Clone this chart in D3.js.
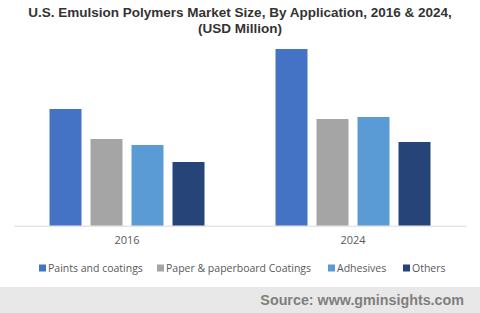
<!DOCTYPE html>
<html>
<head>
<meta charset="utf-8">
<script src="https://cdn.jsdelivr.net/npm/d3@7"></script>
<style>
  body { margin: 0; background: #fff; }
  svg { display: block; }
</style>
</head>
<body>
<svg id="chart"></svg>
<script>
const width = 480, height = 313;

// data (no y axis shown, relative values)
const years = ["2016", "2024"];
const categories = ["Paints and coatings", "Paper & paperboard Coatings", "Adhesives", "Others"];
const paints = [1167, 1767];
const paper = [867, 1067];
const adhesives = [807, 1087];
const others = [637, 837];
const colors = ["#4472C4", "#A5A5A5", "#5B9BD5", "#264478"];

const series = [paints, paper, adhesives, others];
const rows = years.map((y, i) => ({
    year: y,
    values: categories.map((c, j) => ({ cat: c, value: series[j][i] }))
}));

const svg = d3.select("#chart")
    .attr("width", width)
    .attr("height", height);

// title
const title = svg.append("text")
    .attr("text-anchor", "middle")
    .style("font-family", "Liberation Sans, Arial, sans-serif")
    .style("font-weight", "bold")
    .style("font-size", "13.5px")
    .style("fill", "#333");
title.append("tspan").attr("x", 240).attr("y", 17)
    .text("U.S. Emulsion Polymers Market Size, By Application, 2016 & 2024,");
title.append("tspan").attr("x", 240).attr("y", 33)
    .text("(USD Million)");

const margin = { left: 14, right: 14, baseline: 225.7 };

const x0 = d3.scaleBand()
    .domain(years)
    .range([margin.left, width - margin.right]);

const x1 = d3.scaleBand()
    .domain(categories)
    .range([-77.5, 77.5])
    .paddingInner(0.22)
    .paddingOuter(0);

const y = d3.scaleLinear()
    .domain([0, 1800])
    .range([margin.baseline, margin.baseline - 180]);

const groups = svg.selectAll(".group")
    .data(rows)
    .enter().append("g")
    .attr("class", "group")
    .attr("transform", function (d) {
        return "translate(" + (x0(d.year) + x0.bandwidth() / 2) + ",0)";
    });

groups.selectAll("rect")
    .data(function (d) { return d.values; })
    .enter().append("rect")
    .attr("x", function (d) { return x1(d.cat); })
    .attr("width", x1.bandwidth())
    .attr("y", function (d) { return y(d.value); })
    .attr("height", function (d) { return y(0) - y(d.value); })
    .style("fill", function (d, i) { return colors[i]; });

// x axis
const xAxis = svg.append("g")
    .attr("transform", "translate(0," + margin.baseline + ")")
    .call(d3.axisBottom(x0).tickSize(0).tickPadding(11));
xAxis.select(".domain").attr("stroke", "#d9d9d9");
xAxis.selectAll("text")
    .style("font-family", "Open Sans, sans-serif")
    .style("font-size", "11px")
    .style("fill", "#595959");

// legend
const legendX = [39, 157, 328, 403];
const legend = svg.selectAll(".legend")
    .data(categories)
    .enter().append("g")
    .attr("class", "legend")
    .attr("transform", function (d, i) { return "translate(" + legendX[i] + ",268)"; });

legend.append("rect")
    .attr("x", 0).attr("y", -3.5)
    .attr("width", 7).attr("height", 7)
    .style("fill", function (d, i) { return colors[i]; });

legend.append("text")
    .attr("x", 9)
    .attr("dy", "0.35em")
    .style("font-family", "Open Sans, sans-serif")
    .style("font-size", "10.5px")
    .style("fill", "#595959")
    .text(function (d) { return d; });

// footer
svg.append("rect")
    .attr("x", 0).attr("y", 287)
    .attr("width", width).attr("height", height - 287)
    .style("fill", "#e8e8e8");

svg.append("text")
    .attr("x", 464).attr("y", 305)
    .attr("text-anchor", "end")
    .style("font-family", "Liberation Sans, Arial, sans-serif")
    .style("font-weight", "bold")
    .style("font-size", "14.3px")
    .style("fill", "#7f7f7f")
    .text("Source: www.gminsights.com");
</script>
</body>
</html>
